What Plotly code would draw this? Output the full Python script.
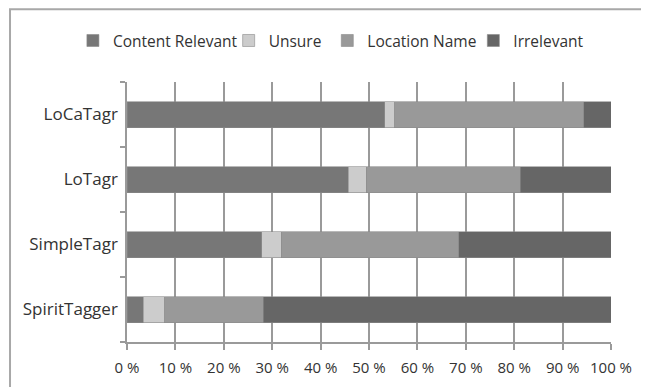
import plotly.graph_objects as go

TAGGERS = ["SpiritTagger", "SimpleTagr", "LoTagr", "LoCaTagr"]
SERIES = ["Content Relevant", "Unsure", "Location Name", "Irrelevant"]
CONTENT_RELEVANT = [3.4, 27.8, 45.7, 53.3]
UNSURE = [4.4, 4.1, 3.7, 2.0]
LOCATION_NAME = [20.3, 36.6, 31.8, 39.1]
IRRELEVANT = [71.9, 31.5, 18.8, 5.6]
X_TICKS = list(range(0, 101, 10))

COLORS = ["#777777", "#cccccc", "#999999", "#666666"]
FONT = "Open Sans, DejaVu Sans, sans-serif"
# one legend per series so the entries can be spaced like the original
LEGEND_IDS = ["legend", "legend2", "legend3", "legend4"]
LEGEND_X = [0.100, 0.340, 0.492, 0.717]

fig = go.Figure()
for name, vals, color, leg in zip(
    SERIES, [CONTENT_RELEVANT, UNSURE, LOCATION_NAME, IRRELEVANT], COLORS, LEGEND_IDS
):
    fig.add_trace(
        go.Bar(
            y=TAGGERS,
            x=vals,
            name=name,
            orientation="h",
            legend=leg,
            showlegend=True,
            marker={"color": color, "line": {"color": "#8a8a8a", "width": 0.6}},
        )
    )

legend_style = {
    "orientation": "h",
    "xref": "container",
    "xanchor": "left",
    "y": 1.158,
    "yanchor": "middle",
    "font": {"size": 15.5, "color": "#333333"},
    "itemwidth": 30,
    "bgcolor": "rgba(0,0,0,0)",
}

# the page body has an 8px margin, so the figure is placed 8px in and down
fig.update_layout(
    width=649,
    height=387,
    showlegend=True,
    barmode="stack",
    bargap=0.6,
    plot_bgcolor="white",
    paper_bgcolor="white",
    margin={"l": 119, "r": 46, "t": 74, "b": 53, "autoexpand": False},
    font={"family": FONT, "size": 15, "color": "#333333"},
    xaxis={
        "range": [0, 100],
        "tickvals": X_TICKS,
        "ticktext": [f"{t} %" for t in X_TICKS],
        "showgrid": True,
        "gridcolor": "#9a9a9a",
        "gridwidth": 1.5,
        "zeroline": False,
        "ticks": "outside",
        "ticklen": 6,
        "tickwidth": 1.5,
        "tickcolor": "#9a9a9a",
        "showline": True,
        "linecolor": "#9a9a9a",
        "linewidth": 1.5,
        "ticklabelstandoff": 5,
        "automargin": False,
    },
    yaxis={
        "categoryorder": "array",
        "categoryarray": TAGGERS,
        "tickson": "boundaries",
        "ticks": "outside",
        "ticklen": 5,
        "tickwidth": 1.5,
        "tickcolor": "#9a9a9a",
        "tickfont": {"size": 17},
        "ticklabelstandoff": 4,
        "showline": True,
        "linecolor": "#9a9a9a",
        "linewidth": 1.5,
        "showgrid": False,
        "automargin": False,
    },
    shapes=[
        {
            "type": "rect",
            "xref": "paper",
            "yref": "paper",
            "x0": -0.2417,
            "x1": 1.3,
            "y0": -0.3,
            "y1": 1.28,
            "line": {"color": "#a8a8a8", "width": 2},
            "layer": "below",
        }
    ],
)
for leg, lx in zip(LEGEND_IDS, LEGEND_X):
    fig.update_layout({leg: dict(legend_style, x=lx)})

fig.write_html("out.html")
